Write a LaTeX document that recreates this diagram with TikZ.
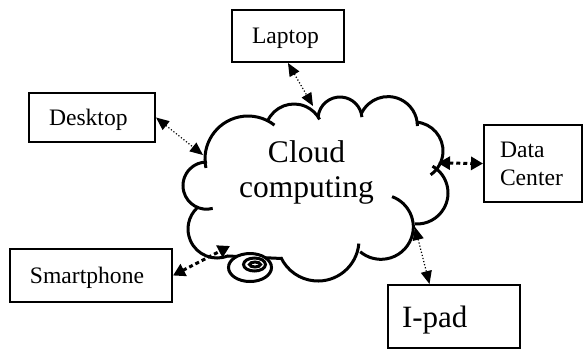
\documentclass[tikz,border=0pt]{standalone}
\usepackage{fontspec}
\setmainfont{Liberation Serif}
\usetikzlibrary{arrows.meta}
\tikzset{dev/.style={draw, line width=1pt, align=left, inner ysep=0pt, font=\fontsize{11.8}{14}\selectfont},
    oneline/.style={text depth=0pt},
    puff/.style={line width=1.5pt},
    link/.style={densely dotted, line width=.6pt, {Triangle[length=6.5pt,width=5.5pt]}-{Triangle[length=6.5pt,width=5.5pt]}},
    fatlink/.style={dash pattern=on 2pt off 1.5pt, line width=1.5pt, {Triangle[length=6pt,width=6.5pt]}-{Triangle[length=6pt,width=6.5pt]}}}
% one bump of the cloud: centre, start angle, end angle, radius
\newcommand{\cloudarc}[4]{\draw[puff] (#1) ++(#2:#4) arc[start angle=#2, end angle=#3, radius=#4];}

\begin{document}
\begin{tikzpicture}[x=0.5pt, y=-0.5pt]
                 \useasboundingbox (0,0) rectangle (584,350);

                 % the cloud
                 \cloudarc{248,159}{168}{308}{43}
                 \cloudarc{294,133}{204}{332}{29}
                 \cloudarc{340,119}{185}{355}{22}
                 \cloudarc{388,126}{205}{360}{29.4}
                 \cloudarc{414,151}{274}{415}{29}
                 \cloudarc{417,193}{300}{454}{31}
                 \cloudarc{381,227}{290}{490}{32.3}
                 \cloudarc{318,240}{5}{155}{41}
                 \cloudarc{217,229}{67}{227}{29}
                 \cloudarc{206.6,185.6}{75}{271}{23.6}
                 \draw[puff](228,256)--(282,258.5);

                 \draw[puff, fill=white](250,267.5) ellipse[x radius=21.5, y radius=14];
                 \draw[puff](254.5,264.5) ellipse[x radius=11, y radius=6.5];
                 \draw[puff](255,264.5) ellipse[x radius=5.5, y radius=2.5];

                 \node[font=\fontsize{15.75}{17.5}\selectfont, align=center] (cc) at (306.5,172) {Cloud\\computing};

                 % devices
                 \node[dev, oneline, text width=36pt, inner xsep=10pt, minimum height=26pt] (lap) at (288,36) {Laptop};
                 \node[dev, oneline, text width=43pt, inner xsep=10pt, minimum height=24.5pt] (desk) at (92,117.5) {Desktop};
                 \node[dev, text width=33pt, inner xsep=8pt, minimum height=38.5pt] (dc) at (533,163.5) {Data\\Center};
                 \node[dev, oneline, text width=61pt, inner xsep=10pt, minimum height=26.5pt] (phone) at (91,275.5) {Smartphone};
                 \node[dev, oneline, text width=52pt, inner xsep=7pt, minimum height=31.5pt, font=\fontsize{15.5}{18}\selectfont] (pad) at (454,316.5) {I-pad};

                 \coordinate (cLap) at (313,106);
                 \coordinate (cDesk) at (203,155);
                 \coordinate (cData) at (438,163);
                 \coordinate (cPhone) at (230,246);
                 \coordinate (cPad) at (415,227);

                 \draw[link](lap.south)--(cLap);
                 \draw[link](desk.east)--(cDesk);
                 \draw[fatlink](cData)--(dc.west);
                 \draw[fatlink](phone.east)--(cPhone);
                 \draw[link](cPad)--(pad.127);
             \end{tikzpicture}
\end{document}
